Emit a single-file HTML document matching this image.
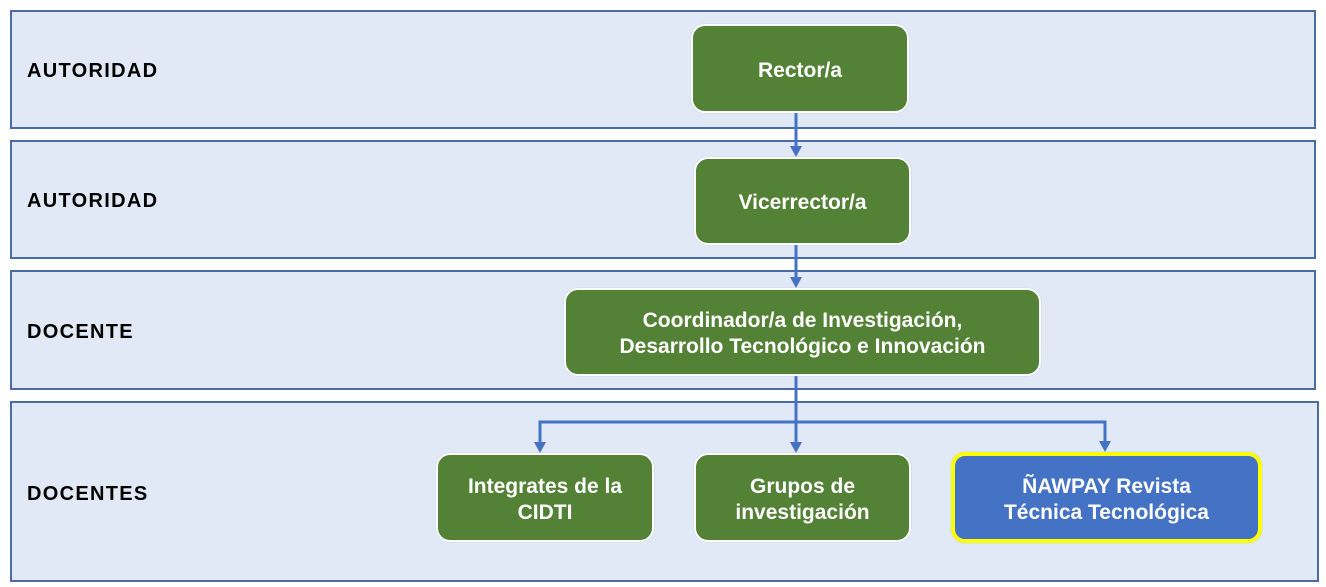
<!DOCTYPE html>
<html><head><meta charset="utf-8"><style>
body{margin:0;width:1326px;height:587px;background:#fff;position:relative;overflow:hidden;font-family:"Liberation Sans",Arial,sans-serif}
.lane{position:absolute;left:10px;width:1306px;background:#e1e9f6;border:2px solid #4a6aa8;box-sizing:border-box}
.lab{position:absolute;left:27px;font-weight:bold;font-size:20px;letter-spacing:1.3px;color:#000}
.box{position:absolute;background:#538135;border:2px solid #fff;border-radius:14px;color:#fff;font-weight:bold;font-size:21px;display:flex;align-items:center;justify-content:center;text-align:center;line-height:26px;box-sizing:border-box;padding-top:4px;box-shadow:0 0 1px #9bb}
</style></head><body>
<div class="lane" style="top:10px;height:119px"></div>
<div class="lane" style="top:140px;height:119px"></div>
<div class="lane" style="top:270px;height:120px"></div>
<div class="lane" style="top:401px;height:181px;width:1309px"></div>
<div class="lab" style="top:60px">AUTORIDAD</div>
<div class="lab" style="top:190px">AUTORIDAD</div>
<div class="lab" style="top:321px">DOCENTE</div>
<div class="lab" style="top:483px">DOCENTES</div>
<svg style="position:absolute;left:0;top:0" width="1326" height="587">
<g stroke="#4472c4" stroke-width="3" fill="none">
<line x1="796" y1="112" x2="796" y2="148"/>
<line x1="796" y1="244" x2="796" y2="279"/>
<line x1="796" y1="375" x2="796" y2="444"/>
<polyline points="540,444 540,422 1105,422 1105,443"/>
</g>
<g fill="#4472c4">
<polygon points="790,146 802,146 796,157"/>
<polygon points="790,277 802,277 796,288"/>
<polygon points="790,442 802,442 796,453"/>
<polygon points="534,442 546,442 540,453"/>
<polygon points="1099,441 1111,441 1105,452"/>
</g></svg>
<div class="box" style="left:691px;top:24px;width:218px;height:89px">Rector/a</div>
<div class="box" style="left:694px;top:157px;width:217px;height:88px">Vicerrector/a</div>
<div class="box" style="left:564px;top:288px;width:477px;height:88px">Coordinador/a de Investigación,<br>Desarrollo Tecnológico e Innovación</div>
<div class="box" style="left:436px;top:453px;width:218px;height:89px">Integrates de la<br>CIDTI</div>
<div class="box" style="left:694px;top:453px;width:217px;height:89px">Grupos de<br>investigación</div>
<div class="box" style="left:951px;top:452px;width:311px;height:91px;background:#4472c4;border:4px solid #ffff00">ÑAWPAY Revista<br>Técnica Tecnológica</div>
</body></html>
